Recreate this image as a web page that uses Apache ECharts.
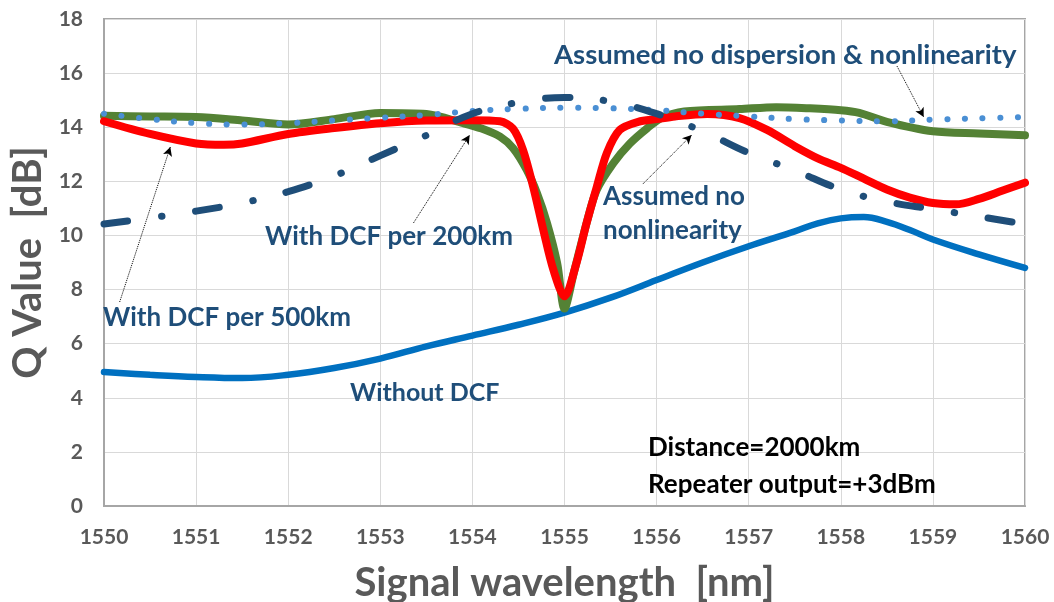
<!DOCTYPE html>
<html>
<head>
<meta charset="utf-8">
<script src="https://cdn.jsdelivr.net/npm/echarts@6/dist/echarts.min.js"></script>
<style>html,body{margin:0;padding:0;background:#fff}#c{width:1054px;height:602px}</style>
</head>
<body>
<div id="c"></div>
<script>
// ---- data ----
const xTicks = [1550,1551,1552,1553,1554,1555,1556,1557,1558,1559,1560];
const yTicks = [0,2,4,6,8,10,12,14,16,18];

const withoutDcfX = [1550,1550.5,1551,1551.5,1552,1552.5,1553,1553.5,1554,1554.5,1555,1555.5,1556,1556.5,1557,1557.5,1557.75,1558,1558.25,1558.5,1558.75,1559,1559.5,1560];
const withoutDcfY = [4.95,4.85,4.77,4.73,4.85,5.1,5.45,5.9,6.3,6.7,7.15,7.7,8.35,9.0,9.6,10.15,10.45,10.63,10.68,10.5,10.2,9.85,9.3,8.8];

const idealX = [1550,1550.5,1551,1551.5,1552,1552.5,1553,1553.5,1554,1554.5,1555,1555.5,1556,1556.5,1557,1557.5,1558,1558.5,1559,1559.5,1560];
const idealY = [14.5,14.3,14.15,14.1,14.15,14.25,14.35,14.45,14.6,14.68,14.72,14.7,14.63,14.5,14.4,14.3,14.25,14.22,14.28,14.33,14.38];

const noNonlinX = [1550,1550.5,1551,1551.5,1552,1552.5,1553,1553.5,1554,1554.5,1555,1555.5,1556,1556.5,1557,1557.5,1558,1558.5,1559,1559.5,1560];
const noNonlinY = [10.42,10.65,10.9,11.2,11.62,12.2,12.95,13.7,14.5,14.92,15.1,14.95,14.5,13.85,13.05,12.4,11.7,11.25,10.97,10.7,10.42];

const dcf200X = [1550,1550.5,1551,1551.5,1552,1552.5,1553,1553.5,1553.9,1554.1,1554.3,1554.44,1554.59,1554.7,1554.81,1554.92,1555,1555.1,1555.24,1555.35,1555.53,1555.71,1555.9,1556.05,1556.3,1556.9,1557.3,1557.65,1558,1558.2,1558.5,1559,1559.5,1560];
const dcf200Y = [14.42,14.4,14.38,14.25,14.1,14.3,14.53,14.49,14.15,13.95,13.65,13.23,12.42,11.57,10.46,8.98,7.3,8.6,10.46,11.68,12.67,13.4,13.97,14.34,14.58,14.67,14.74,14.7,14.63,14.53,14.2,13.85,13.77,13.7];

const dcf500X = [1550,1550.5,1551,1551.3,1551.5,1552,1552.5,1553,1553.5,1554,1554.3,1554.44,1554.55,1554.66,1554.77,1554.88,1555,1555.13,1555.24,1555.35,1555.46,1555.6,1555.8,1556,1556.2,1556.55,1556.9,1557.2,1557.5,1557.75,1558,1558.25,1558.5,1558.75,1559,1559.25,1559.5,1559.75,1560];
const dcf500Y = [14.22,13.75,13.4,13.35,13.4,13.75,13.97,14.15,14.25,14.26,14.22,13.95,13.16,11.8,10.2,8.72,7.75,8.98,10.46,11.79,13.05,13.9,14.2,14.3,14.4,14.49,14.34,13.9,13.3,12.85,12.5,12.1,11.7,11.4,11.2,11.15,11.35,11.65,11.95];

const zip = (xs, ys) => xs.map((x, i) => [x, ys[i]]);

const chart = echarts.init(document.getElementById('c'), null, {renderer: 'canvas'});
const FONT = 'Lato, "Open Sans", sans-serif';
const NAVY = '#1F4E79';

function arrowLine(a, b) {
  return [{coord: a}, {coord: b}];
}

const option = {
  animation: false,
  backgroundColor: '#fff',
  grid: {left: 104, right: 29, top: 19, bottom: 96, show: true, borderColor: '#A6A6A6', borderWidth: 2,
    containLabel: false, outerBoundsMode: 'none'},
  xAxis: {
    type: 'value', min: 1550, max: 1560, interval: 1,
    name: 'Signal wavelength  [nm]', nameLocation: 'middle', nameGap: 57,
    nameTextStyle: {fontFamily: FONT, fontWeight: 'bold', fontSize: 40, color: '#595959'},
    axisLine: {show: true, lineStyle: {color: '#A6A6A6', width: 2}},
    axisTick: {show: false},
    axisLabel: {fontFamily: FONT, fontWeight: 'bold', fontSize: 21, color: '#595959', margin: 21,
      formatter: v => xTicks.includes(v) ? String(v) : ''},
    splitLine: {show: true, lineStyle: {color: '#D9D9D9', width: 1}}
  },
  yAxis: {
    type: 'value', min: 0, max: 18, interval: 2,
    name: 'Q Value  [dB]', nameLocation: 'middle', nameGap: 56, nameRotate: 90,
    nameTextStyle: {fontFamily: FONT, fontWeight: 'bold', fontSize: 40, color: '#595959'},
    axisLine: {show: true, lineStyle: {color: '#A6A6A6', width: 2}},
    axisTick: {show: false},
    axisLabel: {fontFamily: FONT, fontWeight: 'bold', fontSize: 21, color: '#595959', margin: 21,
      formatter: v => yTicks.includes(v) ? String(v) : ''},
    splitLine: {show: true, lineStyle: {color: '#D9D9D9', width: 1}}
  },
  series: [
    {name: 'Without DCF', type: 'line', data: zip(withoutDcfX, withoutDcfY), smooth: 0.4, showSymbol: false,
      lineStyle: {color: '#0070C0', width: 6.5, cap: 'round'}, z: 2},
    {name: 'With DCF per 200km', type: 'line', data: zip(dcf200X, dcf200Y), smooth: 0.3, showSymbol: false,
      lineStyle: {color: '#548235', width: 8, cap: 'round', join: 'round'}, z: 3},
    {name: 'With DCF per 500km', type: 'line', data: zip(dcf500X, dcf500Y), smooth: 0.3, showSymbol: false,
      lineStyle: {color: '#FF0000', width: 8, cap: 'round', join: 'round'}, z: 4},
    {name: 'Assumed no dispersion & nonlinearity', type: 'line', data: zip(idealX, idealY), smooth: 0.4, showSymbol: false,
      lineStyle: {color: '#4A8FD4', width: 6, type: [0.1, 17.5], cap: 'round'}, z: 5},
    {name: 'Assumed no nonlinearity', type: 'line', data: zip(noNonlinX, noNonlinY), smooth: 0.4, showSymbol: false,
      lineStyle: {color: NAVY, width: 7, type: [24, 34, 0.5, 34], cap: 'round'}, z: 6,
      markLine: {
        silent: true, symbol: ['none', 'arrow'], symbolSize: [7, 9], precision: 4,
        label: {show: false},
        lineStyle: {type: 'dotted', color: '#000', width: 1},
        emphasis: {disabled: true},
        data: [
          arrowLine([1550.17, 7.54], [1550.72, 13.27]),
          arrowLine([1553.36, 10.46], [1553.97, 13.71]),
          arrowLine([1555.85, 11.9], [1556.38, 13.71]),
          arrowLine([1558.61, 16.26], [1558.9, 14.38])
        ]
      }}
  ],
  graphic: [
    {type: 'text', x: 554, y: 55, z: 10, style: {text: 'Assumed no dispersion & nonlinearity', font: 'bold 27.5px ' + FONT, fill: NAVY, verticalAlign: 'middle'}},
    {type: 'text', x: 265, y: 237, z: 10, style: {text: 'With DCF per 200km', font: 'bold 26px ' + FONT, fill: NAVY, verticalAlign: 'middle'}},
    {type: 'text', x: 603, y: 197, z: 10, style: {text: 'Assumed no', font: 'bold 26px ' + FONT, fill: NAVY, verticalAlign: 'middle'}},
    {type: 'text', x: 603, y: 231, z: 10, style: {text: 'nonlinearity', font: 'bold 26px ' + FONT, fill: NAVY, verticalAlign: 'middle'}},
    {type: 'text', x: 103, y: 318, z: 10, style: {text: 'With DCF per 500km', font: 'bold 26px ' + FONT, fill: NAVY, verticalAlign: 'middle'}},
    {type: 'text', x: 350, y: 393, z: 10, style: {text: 'Without DCF', font: 'bold 25px ' + FONT, fill: NAVY, verticalAlign: 'middle'}},
    {type: 'text', x: 648, y: 448, z: 10, style: {text: 'Distance=2000km', font: 'bold 26px ' + FONT, fill: '#000', verticalAlign: 'middle'}},
    {type: 'text', x: 648, y: 485, z: 10, style: {text: 'Repeater output=+3dBm', font: 'bold 26px ' + FONT, fill: '#000', verticalAlign: 'middle'}}
  ]
};
chart.setOption(option);
</script>
</body>
</html>
